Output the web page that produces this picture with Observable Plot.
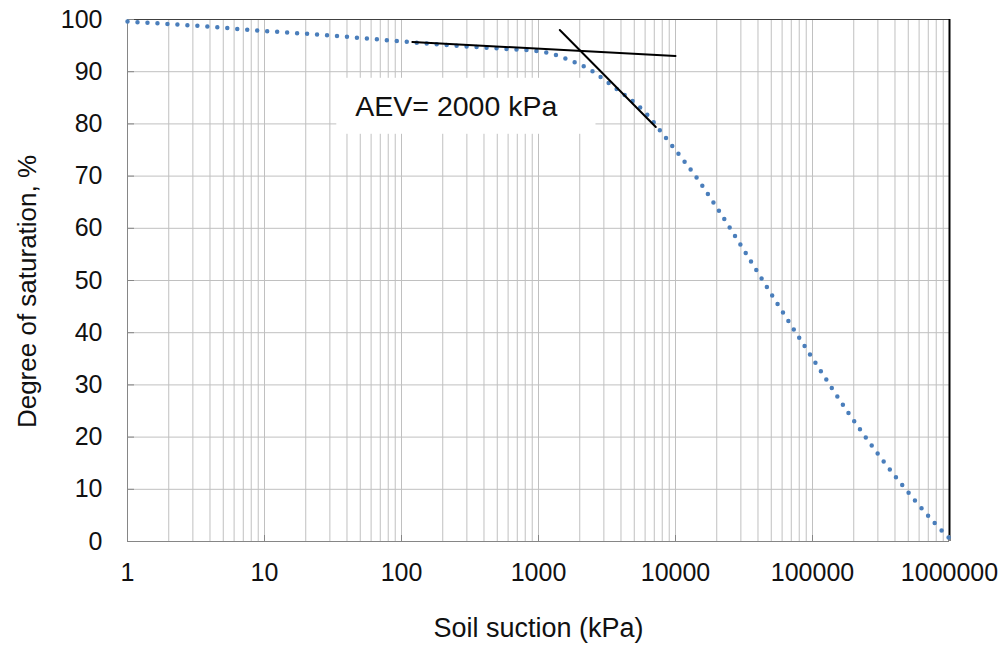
<!DOCTYPE html>
<html>
<head>
<meta charset="utf-8">
<script src="https://cdn.jsdelivr.net/npm/d3@7"></script>
<script src="https://cdn.jsdelivr.net/npm/@observablehq/plot@0.6"></script>
<style>
  body { margin: 0; background: #fff; }
  #chart { width: 1006px; height: 645px; }
</style>
</head>
<body>
<div id="chart"></div>
<script>
// Soil-water characteristic curve: degree of saturation vs. soil suction
const suction    = [1, 3.16, 10, 31.6, 100, 316, 631, 1000, 1260, 1580, 2000, 2510, 3000, 3980, 5010, 6310, 7940, 10000, 15000, 20000, 31600, 50000, 100000, 178000, 316000, 562000, 794000, 1000000];
const saturation = [99.6, 98.8, 97.8, 96.9, 95.8, 94.8, 94.3, 93.9, 93.4, 92.5, 91.4, 90.0, 88.5, 86.1, 84.1, 81.6, 78.3, 75.0, 68.9, 64.0, 55.8, 47.4, 35.1, 25.1, 16.0, 7.8, 3.3, 0.6];

// Tangent lines used to locate the air-entry value
const flatSuction  = [120, 10000];
const flatSat      = [95.7, 93.0];
const steepSuction = [1430, 7180];
const steepSat     = [98.0, 79.4];
const aev = 2000;

const xTickValues = [1, 10, 100, 1000, 10000, 100000, 1000000];
const yTickValues = [0, 10, 20, 30, 40, 50, 60, 70, 80, 90, 100];
const xTitle = "Soil suction (kPa)";
const yTitle = "Degree of saturation, %";

const minorX = xTickValues.slice(0, -1).flatMap(d => d3.range(2, 10).map(k => k * d));
const curve = suction.map((s, i) => ({s, sat: saturation[i]}));
const flat = flatSuction.map((s, i) => ({s, sat: flatSat[i]}));
const steep = steepSuction.map((s, i) => ({s, sat: steepSat[i]}));

const grid = "#c0c0c0";
const axisGray = "#868686";

const chart = Plot.plot({
  width: 1006,
  height: 645,
  marginLeft: 127,
  marginRight: 57,
  marginTop: 19,
  marginBottom: 104,
  style: {fontFamily: "'Liberation Sans', Arial, sans-serif", color: "#111", background: "#fff", overflow: "visible"},
  x: {type: "log", domain: [1, 1e6], label: null},
  y: {domain: [0, 100], label: null},
  marks: [
    Plot.ruleX(minorX, {stroke: grid}),
    Plot.ruleX(xTickValues, {stroke: grid}),
    Plot.ruleY(yTickValues, {stroke: grid}),
    Plot.ruleX([1], {stroke: axisGray}),
    Plot.ruleY([0], {stroke: axisGray}),
    Plot.ruleY([100], {stroke: "#404040"}),
    Plot.ruleX([1e6], {stroke: "#000", strokeWidth: 2}),
    // short inward tick marks
    Plot.axisY({ticks: yTickValues, tickSize: 7, dx: 7, tickFormat: () => "", stroke: axisGray, label: null}),
    Plot.axisX({ticks: xTickValues, tickSize: 6, dy: -6, tickFormat: () => "", stroke: axisGray, label: null}),
    // tick labels
    Plot.axisY({ticks: yTickValues, tickSize: 0, tickPadding: 25, fontSize: 25, label: null}),
    Plot.axisX({ticks: xTickValues, tickSize: 0, tickPadding: 22, fontSize: 25, label: null, tickFormat: d => String(d)}),
    // axis titles
    Plot.text([yTitle], {text: d => d, frameAnchor: "left", textAnchor: "middle", rotate: -90, dx: -100, dy: 11, fontSize: 26}),
    Plot.text([xTitle], {text: d => d, frameAnchor: "bottom", lineAnchor: "bottom", dy: 95, fontSize: 27}),
    // annotation
    Plot.text([`AEV= ${aev} kPa`], {text: d => d, x: 46, y: 83.3, textAnchor: "start", fontSize: 28.5}),
    // measured curve (round-dot line)
    Plot.line(curve, {x: "s", y: "sat", curve: "monotone-x", stroke: "#4a7ebb", strokeWidth: 4.5, strokeDasharray: "0 10", strokeLinecap: "round"}),
    // tangents
    Plot.line(flat, {x: "s", y: "sat", stroke: "#000", strokeWidth: 2}),
    Plot.line(steep, {x: "s", y: "sat", stroke: "#000", strokeWidth: 2})
  ]
});

document.getElementById("chart").append(chart);

// white box behind the annotation text
const label = d3.select(chart).selectAll("text")
  .filter(function () { return this.textContent.startsWith("AEV"); }).node();
if (label) {
  const bb = label.getBBox();
  const rect = document.createElementNS("http://www.w3.org/2000/svg", "rect");
  rect.setAttribute("x", bb.x - 19);
  rect.setAttribute("y", bb.y - 12);
  rect.setAttribute("width", bb.width + 57);
  rect.setAttribute("height", bb.height + 24);
  rect.setAttribute("fill", "#fff");
  if (label.getAttribute("transform")) rect.setAttribute("transform", label.getAttribute("transform"));
  label.parentNode.insertBefore(rect, label);
}
</script>
</body>
</html>
